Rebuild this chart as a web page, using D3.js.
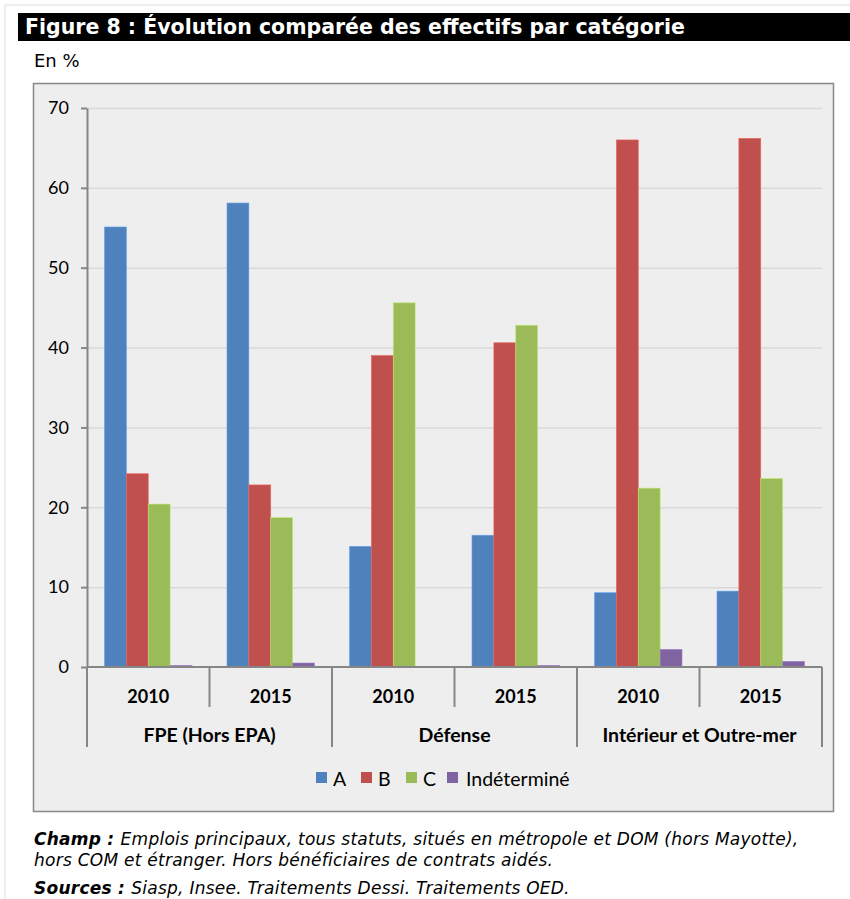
<!DOCTYPE html>
<html>
<head>
<meta charset="utf-8">
<script src="https://cdn.jsdelivr.net/npm/d3@7"></script>
<style>
  body { margin: 0; background: #fff; }
  svg text { font-family: Lato, "Open Sans", sans-serif; }
  svg text.title { font-family: "DejaVu Sans", sans-serif; font-weight: bold; fill: #fff; }
  svg text.note { font-family: "DejaVu Sans", sans-serif; font-style: italic; letter-spacing: 0.25px; }
  svg text.unit { font-family: "DejaVu Sans", sans-serif; }
</style>
</head>
<body>
<div id="chart"><svg width="850" height="899"></svg></div>
<script>
// data
const groups = ["FPE (Hors EPA)", "Défense", "Intérieur et Outre-mer"];
const years = ["2010", "2015"];
const series = ["A", "B", "C", "Indéterminé"];
const colors = ["#4f81bd", "#c0504d", "#9bbb59", "#8064a2"];
const valuesA = [55.1, 58.1, 15.1, 16.5, 9.3, 9.5];
const valuesB = [24.2, 22.8, 39.0, 40.6, 66.0, 66.2];
const valuesC = [20.4, 18.7, 45.6, 42.8, 22.4, 23.6];
const valuesInd = [0.2, 0.5, 0.0, 0.2, 2.2, 0.7];
const yTicks = [0, 10, 20, 30, 40, 50, 60, 70];

const allValues = [valuesA, valuesB, valuesC, valuesInd];
const categories = [];
groups.forEach(g => years.forEach(y => categories.push(g + "|" + y)));

const svg = d3.select("#chart").select("svg");

// page frame
svg.append("line").attr("x1", 5).attr("x2", 850).attr("y1", 5).attr("y2", 5).attr("stroke", "#ddd");
svg.append("line").attr("x1", 5).attr("x2", 5).attr("y1", 5).attr("y2", 899).attr("stroke", "#ddd");

// title bar
svg.append("rect").attr("x", 18).attr("y", 13).attr("width", 832).attr("height", 28).attr("fill", "#000");
svg.append("text").attr("class", "title")
  .attr("x", 25).attr("y", 34).attr("font-size", 20.5)
  .text("Figure 8 : Évolution comparée des effectifs par catégorie");

svg.append("text").attr("class", "unit").attr("x", 34).attr("y", 67).attr("font-size", 18)
  .text("En %");

// chart box
svg.append("rect").attr("x", 33.5).attr("y", 83.5).attr("width", 800).attr("height", 728)
  .attr("fill", "#eeeeee").attr("stroke", "#888").attr("stroke-width", 1.5);

const margin = {left: 87, right: 822, top: 108, bottom: 667};

const xScale = d3.scaleBand()
  .domain(categories)
  .range([margin.left, margin.right])
  .paddingInner(0).paddingOuter(0);

const xInner = d3.scaleBand()
  .domain(series)
  .range([0, xScale.bandwidth()])
  .paddingOuter(0.8).paddingInner(0);

const yScale = d3.scaleLinear()
  .domain([0, 70])
  .range([margin.bottom, margin.top]);

// grid
svg.append("g")
  .attr("transform", `translate(${margin.left}, 0)`)
  .call(d3.axisLeft(yScale).tickValues(yTicks.slice(1)).tickFormat("").tickSize(-(margin.right - margin.left)))
  .call(g => g.select(".domain").remove())
  .call(g => g.selectAll("line").attr("stroke", "#d9d9d9").attr("stroke-width", 1.5));

// y axis
svg.append("g")
  .attr("transform", `translate(${margin.left}, 0)`)
  .call(d3.axisLeft(yScale).tickValues(yTicks).tickSize(6).tickPadding(12).tickSizeOuter(0))
  .call(g => g.select(".domain").attr("stroke", "#868686").attr("stroke-width", 2))
  .call(g => g.selectAll("line").attr("stroke", "#868686").attr("stroke-width", 2))
  .call(g => g.selectAll("text").attr("font-size", 18).attr("fill", "#000")
    .attr("style", "font-family: Lato, sans-serif"));

// bars
const barGroups = svg.append("g").selectAll("g")
  .data(categories)
  .join("g")
  .attr("transform", d => `translate(${xScale(d)}, 0)`);

barGroups.selectAll("rect")
  .data((d, i) => series.map((s, j) => ({s: s, v: allValues[j][i], c: colors[j]})))
  .join("rect")
  .attr("x", d => xInner(d.s))
  .attr("width", xInner.bandwidth())
  .attr("y", d => yScale(d.v))
  .attr("height", d => yScale(0) - yScale(d.v))
  .attr("fill", d => d.c)
  .attr("stroke", d => d3.color(d.c).brighter(0.6))
  .attr("stroke-width", 0.6);

// x axis line
svg.append("line")
  .attr("x1", margin.left).attr("x2", margin.right)
  .attr("y1", yScale(0)).attr("y2", yScale(0))
  .attr("stroke", "#868686").attr("stroke-width", 2);

// year separators
const axisG = svg.append("g");
categories.forEach((c, i) => {
  const x = xScale(c);
  const isGroupEdge = i % 2 === 0;
  axisG.append("line")
    .attr("x1", x).attr("x2", x)
    .attr("y1", yScale(0)).attr("y2", isGroupEdge ? 747 : 707)
    .attr("stroke", "#868686").attr("stroke-width", 2);
});
axisG.append("line")
  .attr("x1", margin.right).attr("x2", margin.right)
  .attr("y1", yScale(0)).attr("y2", 747)
  .attr("stroke", "#868686").attr("stroke-width", 2);

// year labels
axisG.selectAll(".yearLabel")
  .data(categories)
  .join("text")
  .attr("class", "yearLabel")
  .attr("x", d => xScale(d) + xScale.bandwidth() / 2)
  .attr("y", 703)
  .attr("text-anchor", "middle")
  .attr("font-size", 18).attr("font-weight", "bold")
  .text(d => d.split("|")[1]);

// group labels
axisG.selectAll(".groupLabel")
  .data(groups)
  .join("text")
  .attr("class", "groupLabel")
  .attr("x", d => xScale(d + "|2010") + xScale.bandwidth())
  .attr("y", 742)
  .attr("text-anchor", "middle")
  .attr("font-size", 19.5).attr("font-weight", "bold")
  .text(d => d);

// legend
const legendX = [316, 361, 406, 447];
const legend = svg.append("g").selectAll("g")
  .data(series)
  .join("g")
  .attr("transform", (d, i) => `translate(${legendX[i]}, 772)`);
legend.append("rect").attr("width", 11).attr("height", 11).attr("fill", (d, i) => colors[i]);
legend.append("text")
  .attr("x", (d, i) => i === 3 ? 19 : 17).attr("y", 14)
  .attr("font-size", 19.5)
  .text(d => d);

// notes
const n1 = svg.append("text").attr("class", "note").attr("font-size", 17).attr("x", 34).attr("y", 845);
n1.append("tspan").attr("font-weight", "bold").text("Champ : ");
n1.append("tspan").text("Emplois principaux, tous statuts, situés en métropole et DOM (hors Mayotte),");
svg.append("text").attr("class", "note").attr("font-size", 17).attr("x", 34).attr("y", 866)
  .text("hors COM et étranger. Hors bénéficiaires de contrats aidés.");
const n2 = svg.append("text").attr("class", "note").attr("font-size", 17).attr("x", 34).attr("y", 894);
n2.append("tspan").attr("font-weight", "bold").text("Sources : ");
n2.append("tspan").text("Siasp, Insee. Traitements Dessi. Traitements OED.");
</script>
</body>
</html>
